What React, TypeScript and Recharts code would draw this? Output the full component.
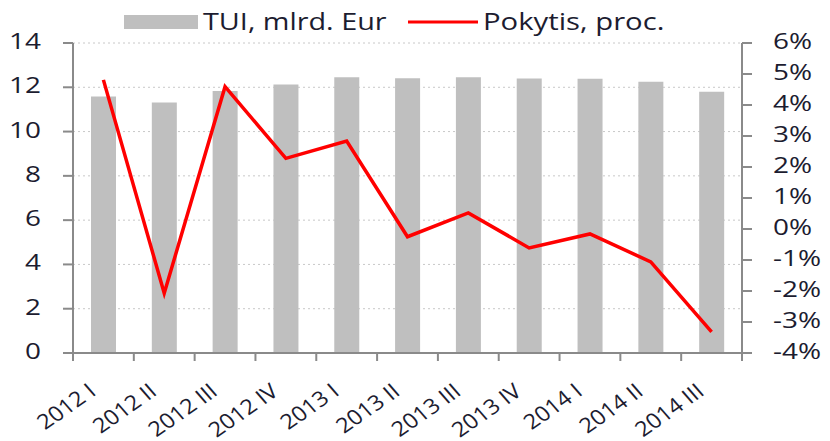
import React from "react";
import { ComposedChart, Bar, Line, XAxis, YAxis, CartesianGrid } from "recharts";

const quarters = ["2012 I", "2012 II", "2012 III", "2012 IV", "2013 I", "2013 II", "2013 III", "2013 IV", "2014 I", "2014 II", "2014 III"];
const tui = [11.58, 11.31, 11.83, 12.13, 12.45, 12.41, 12.45, 12.4, 12.38, 12.25, 11.8];
const change = [4.81, -2.07, 4.59, 2.28, 2.84, -0.25, 0.52, -0.61, -0.16, -1.06, -3.32];
const leftTicks = [0, 2, 4, 6, 8, 10, 12, 14];
const rightTicks = [-4, -3, -2, -1, 0, 1, 2, 3, 4, 5, 6];

const data = quarters.map((q, i) => ({ q, tui: tui[i], change: change[i] }));

const FONT = "'Open Sans', sans-serif";
const TEXT = "#1c1c30";
const AXIS = "#8a8a8a";
const BAND = 669 / quarters.length;
const PLOT_BOTTOM = 353;
// the source picture is stretched sideways, so text is widened to match
const SX = 1.27;

function QuarterTick(props: any) {
  const { x, payload, index } = props;
  return (
    <g>
      <line x1={x - BAND / 2} y1={PLOT_BOTTOM} x2={x - BAND / 2} y2={PLOT_BOTTOM + 8} stroke={AXIS} strokeWidth={2} />
      {index === quarters.length - 1 && (
        <line x1={x + BAND / 2} y1={PLOT_BOTTOM} x2={x + BAND / 2} y2={PLOT_BOTTOM + 8} stroke={AXIS} strokeWidth={2} />
      )}
      <text transform={`translate(${x - 6} ${PLOT_BOTTOM + 41}) scale(1.12 1) rotate(-38)`} textAnchor="end"
        fontFamily={FONT} fontSize={21} fill={TEXT}>
        {payload.value}
      </text>
    </g>
  );
}

function LeftTick(props: any) {
  const { y, payload } = props;
  return (
    <text transform={`translate(41 ${y + 6}) scale(${SX} 1)`} textAnchor="end" fontFamily={FONT} fontSize={22} fill={TEXT}>
      {payload.value}
    </text>
  );
}

function RightTick(props: any) {
  const { y, payload } = props;
  return (
    <text transform={`translate(773 ${y + 6}) scale(${SX} 1)`} textAnchor="start" fontFamily={FONT} fontSize={22} fill={TEXT}>
      {`${payload.value}%`}
    </text>
  );
}

function LegendBox() {
  return (
    <svg width={830} height={40} style={{ position: "absolute", left: 0, top: 0 }}>
      <rect x={124} y={15} width={74} height={14} fill="#bfbfbf" />
      <text transform={`translate(203 30) scale(1.2 1)`} fontFamily={FONT} fontSize={24} fill={TEXT}>TUI, mlrd. Eur</text>
      <line x1={408} y1={22} x2={478} y2={22} stroke="#ff0000" strokeWidth={3} />
      <text transform={`translate(483 30) scale(1.22 1)`} fontFamily={FONT} fontSize={24} fill={TEXT}>Pokytis, proc.</text>
    </svg>
  );
}

export default function App() {
  return (
    <div style={{ position: "absolute", left: 0, top: 0, width: 830, height: 441, background: "#fff" }}>
      <ComposedChart width={830} height={441} data={data} margin={{ top: 43, right: 0, bottom: 0, left: 0 }}>
        <CartesianGrid yAxisId="left" vertical={false} stroke="#c8c8c8" strokeDasharray="2 3" />
        <XAxis dataKey="q" interval={0} tickLine={false} axisLine={{ stroke: AXIS, strokeWidth: 2 }} tick={<QuarterTick />} height={88} />
        <YAxis yAxisId="left" domain={[0, 14]} ticks={leftTicks} interval={0} width={73} axisLine={{ stroke: AXIS, strokeWidth: 2 }}
          tickLine={{ stroke: AXIS, strokeWidth: 2 }} tickSize={10} tick={<LeftTick />} />
        <YAxis yAxisId="right" orientation="right" domain={[-4, 6]} ticks={rightTicks} interval={0} width={88}
          axisLine={{ stroke: AXIS, strokeWidth: 2 }} tickLine={{ stroke: AXIS, strokeWidth: 2 }} tickSize={10} tick={<RightTick />} />
        <Bar yAxisId="left" dataKey="tui" fill="#bfbfbf" barSize={25} isAnimationActive={false} />
        <Line yAxisId="right" dataKey="change" stroke="#ff0000" strokeWidth={3.5} dot={false} isAnimationActive={false} />
      </ComposedChart>
      <LegendBox />
    </div>
  );
}
